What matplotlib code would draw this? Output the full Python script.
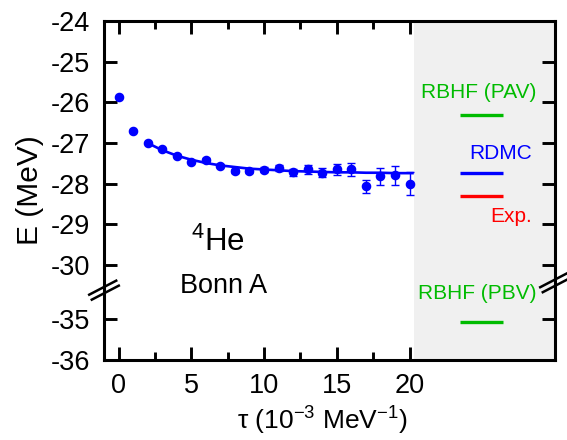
import numpy as np
import matplotlib
matplotlib.use("Agg")
import matplotlib.pyplot as plt
from matplotlib.ticker import FixedLocator, FixedFormatter

plt.rcParams['font.family'] = ['Liberation Sans', 'DejaVu Sans']
plt.rcParams['mathtext.fontset'] = 'custom'
plt.rcParams['mathtext.rm'] = 'Liberation Sans'
plt.rcParams['mathtext.it'] = 'Liberation Sans:italic'
plt.rcParams['mathtext.default'] = 'regular'
plt.rcParams['axes.unicode_minus'] = False

# ---------------- data ----------------
tau = [0, 1, 2, 3, 4, 5, 6, 7, 8, 9, 10, 11, 12, 13, 14, 15, 16, 17, 18, 19, 20]
energy = [-25.88, -26.71, -27.00, -27.14, -27.31, -27.47, -27.42, -27.56, -27.69, -27.68,
          -27.66, -27.61, -27.72, -27.65, -27.73, -27.65, -27.65, -28.06, -27.82, -27.79, -28.00]
energy_err = [0.01, 0.02, 0.02, 0.03, 0.03, 0.03, 0.04, 0.04, 0.05, 0.05,
              0.06, 0.08, 0.09, 0.11, 0.11, 0.13, 0.15, 0.16, 0.20, 0.23, 0.28]

fit_tau = [2, 3, 4, 5, 6, 7, 8, 9, 10, 11, 12, 13, 14, 15, 16, 17, 18, 19, 20, 20.2]
fit_energy = [-27.00, -27.175, -27.31, -27.41, -27.49, -27.55, -27.59, -27.63, -27.65, -27.67,
              -27.69, -27.70, -27.71, -27.72, -27.72, -27.73, -27.73, -27.74, -27.74, -27.74]

level_names = ['RBHF (PAV)', 'RDMC', 'Exp.', 'RBHF (PBV)']
level_values = [-26.30, -27.74, -28.29, -35.07]
level_colors = ['#00bb00', '#0000ff', '#ff0000', '#00bb00']
level_tau_range = [23.5, 26.4]

xtick_values = [0, 5, 10, 15, 20]
xtick_labels = ['0', '5', '10', '15', '20']
xminor_values = [2.5, 7.5, 12.5, 17.5]
ytick_values = [-24, -25, -26, -27, -28, -29, -30, -35, -36]
ytick_labels = ['-24', '-25', '-26', '-27', '-28', '-29', '-30', '-35', '-36']

# ---------------- broken y scale ----------------
B_HI, B_LO, GAP = -30.5, -34.5, 1.0 / 3.0
K = GAP / (B_HI - B_LO)
SHIFT = (B_HI - B_LO) - GAP


def fwd(e):
    e = np.asarray(e, dtype=float)
    return np.where(e >= B_HI, e,
                    np.where(e <= B_LO, e + SHIFT, B_HI - (B_HI - e) * K))


def inv(y):
    y = np.asarray(y, dtype=float)
    return np.where(y >= B_HI, y,
                    np.where(y <= B_LO + SHIFT, y - SHIFT, B_HI - (B_HI - y) / K))


fig = plt.figure(figsize=(5.67, 4.4), dpi=100)
ax = fig.add_axes([104 / 567, 1 - 360 / 440, 451 / 567, 339 / 440])
ax.set_yscale('function', functions=(fwd, inv))

ax.set_xlim(-1, 30)
ax.set_ylim(-36, -24)

ax.axvspan(20.3, 30, color='#f0f0f0', zorder=0, lw=0)

ax.errorbar(tau, energy, yerr=energy_err, fmt='o', color='#0000ff', ms=5.9,
            elinewidth=1.0, capsize=2.6, capthick=1.0, zorder=3)
ax.plot(fit_tau, fit_energy, color='#0000ff', lw=1.9, zorder=2)

for name, val, col in zip(level_names, level_values, level_colors):
    ax.plot(level_tau_range, [val, val], color=col, lw=2.4, solid_capstyle='butt', zorder=3)

ax.text(28.7, -25.75, 'RBHF (PAV)', color='#00bb00', fontsize=15, ha='right', va='center')
ax.text(28.4, -27.25, 'RDMC', color='#0000ff', fontsize=15, ha='right', va='center')
ax.text(28.4, -28.80, 'Exp.', color='#ff0000', fontsize=15, ha='right', va='center')
ax.text(28.7, -32.9, 'RBHF (PBV)', color='#00bb00', fontsize=15, ha='right', va='center')

ax.text(6.85, -29.44, '$^{4}$He', fontsize=22.5, ha='center', va='center')
ax.text(7.2, -30.63, 'Bonn A', fontsize=19.5, ha='center', va='center')

# ticks
ax.xaxis.set_major_locator(FixedLocator(xtick_values))
ax.xaxis.set_major_formatter(FixedFormatter(xtick_labels))
ax.xaxis.set_minor_locator(FixedLocator(xminor_values))
ax.yaxis.set_major_locator(FixedLocator(ytick_values))
ax.yaxis.set_major_formatter(FixedFormatter(ytick_labels))
ax.yaxis.set_minor_locator(FixedLocator([]))

ax.tick_params(axis='both', which='major', direction='in', length=9.4, width=2.1,
               top=True, right=True, labelsize=19.5, pad=9, color='black')
ax.tick_params(axis='x', which='minor', direction='in', length=5.8, width=2.1, top=True)
ax.tick_params(axis='y', which='major', pad=10)

for sp in ax.spines.values():
    sp.set_linewidth(2.2)

ax.set_xlabel('τ (10$^{-3}$ MeV$^{-1}$)', fontsize=19)
ax.xaxis.set_label_coords(0.483, -0.132)
ax.set_ylabel('E (MeV)', fontsize=21.5)
ax.yaxis.set_label_coords(-0.133, 0.5)

# break marks (axes fraction, pixel-sized)
W, H = 451.0, 339.0
for (cx, cy) in [(0.0, 0.206), (1.0, 0.228)]:
    for off in (-2.8, 2.8):
        dx, dy = 13.5, 7.0
        nx, ny = 0.46, 0.89
        x0 = cx + (-dx + off * nx) / W
        x1 = cx + (dx + off * nx) / W
        y0 = cy + (-dy - off * ny) / H
        y1 = cy + (dy - off * ny) / H
        ax.plot([x0, x1], [y0, y1], transform=ax.transAxes, color='black', lw=1.8,
                clip_on=False, zorder=5)

fig.savefig('out.png', dpi=100)
